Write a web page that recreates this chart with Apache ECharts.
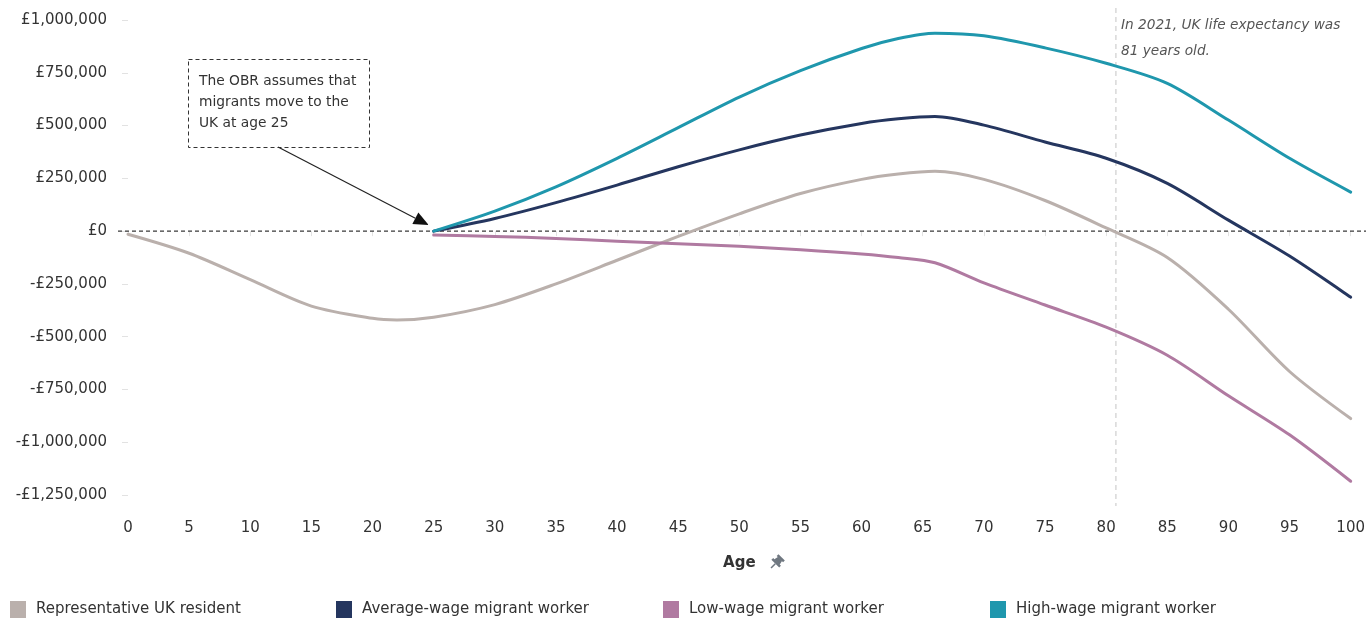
<!DOCTYPE html>
<html>
<head>
<meta charset="utf-8">
<title>Lifetime net fiscal impact by age</title>
<script src="https://cdn.jsdelivr.net/npm/echarts@6/dist/echarts.min.js"></script>
<style>
  html, body { margin: 0; padding: 0; background: #fff; }
  #chart { width: 1368px; height: 619px; }
</style>
</head>
<body>
<div id="chart"></div>
<script>
// Ages at which the cumulative net fiscal impact is sampled
const ages = [0, 5, 10, 15, 20, 22, 25, 30, 35, 40, 45, 50, 55, 60, 63, 66, 70, 75, 80, 85, 90, 95, 100];

// Cumulative net fiscal impact (£), null before arrival in the UK
const residentValues = [-15000, -105000, -230000, -355000, -413000, -421000, -408000, -348000, -250000, -138000, -25000, 82000, 178000, 245000, 270000, 283000, 245000, 145000, 15000, -125000, -370000, -665000, -888000];
const averageWageValues = [null, null, null, null, null, null, 0, 60000, 135000, 218000, 305000, 385000, 455000, 510000, 532000, 543000, 502000, 422000, 345000, 226000, 52000, -118000, -313000];
const lowWageValues = [null, null, null, null, null, null, -18000, -25000, -35000, -48000, -60000, -72000, -88000, -108000, -125000, -150000, -245000, -350000, -455000, -588000, -780000, -965000, -1185000];
const highWageValues = [null, null, null, null, null, null, 0, 95000, 210000, 345000, 490000, 635000, 760000, 865000, 912000, 937000, 925000, 868000, 795000, 700000, 526000, 345000, 185000];

const seriesNames = ['Representative UK resident', 'Average-wage migrant worker', 'Low-wage migrant worker', 'High-wage migrant worker'];
const seriesColors = ['#bab0ac', '#25365f', '#b07aa1', '#1f97ad'];

const yTicks = [-1250000, -1000000, -750000, -500000, -250000, 0, 250000, 500000, 750000, 1000000];
const xTicks = [0, 5, 10, 15, 20, 25, 30, 35, 40, 45, 50, 55, 60, 65, 70, 75, 80, 85, 90, 95, 100];

const MIGRATION_AGE = 25;
const LIFE_EXPECTANCY_LINE = 80.8;

const FONT = '"DejaVu Sans", "Noto Sans", sans-serif';

function formatPounds(v) {
  const abs = Math.abs(v).toLocaleString('en-GB');
  return (v < 0 ? '-' : '') + '£' + abs;
}

function pairs(values) {
  return ages.map((a, i) => [a, values[i]]);
}

const allValues = [residentValues, averageWageValues, lowWageValues, highWageValues];

const legendLefts = [10, 336, 663, 990];

const option = {
  animation: false,
  backgroundColor: '#ffffff',
  textStyle: { fontFamily: FONT },
  grid: { left: 128, right: 13, top: 20, bottom: 124, containLabel: false },
  legend: seriesNames.map((name, i) => ({
    data: [{ name: name, icon: 'rect' }],
    left: legendLefts[i],
    top: 601,
    padding: 0,
    itemWidth: 16,
    itemHeight: 17,
    selectedMode: false,
    textStyle: { fontFamily: FONT, fontSize: 15, color: '#333', padding: [0, 0, 0, 5] }
  })),
  xAxis: {
    type: 'value',
    min: xTicks[0],
    max: xTicks[xTicks.length - 1],
    interval: xTicks[1] - xTicks[0],
    offset: 15,
    name: 'Age',
    nameLocation: 'middle',
    nameGap: 46,
    nameTextStyle: { fontFamily: FONT, fontSize: 15, fontWeight: 600, color: '#333' },
    axisLine: { show: false },
    axisTick: { show: true, length: 5, lineStyle: { color: '#e2e2e2' } },
    splitLine: { show: false },
    axisLabel: { fontFamily: FONT, fontSize: 15, color: '#333', margin: 11 }
  },
  yAxis: {
    type: 'value',
    min: yTicks[0],
    max: yTicks[yTicks.length - 1],
    interval: yTicks[1] - yTicks[0],
    offset: 10,
    axisLine: { show: false },
    axisTick: { show: true, length: 6, lineStyle: { color: '#e2e2e2' } },
    splitLine: { show: false },
    axisLabel: { fontFamily: FONT, fontSize: 15, color: '#333', margin: 11, formatter: formatPounds }
  },
  series: seriesNames.map((name, i) => ({
    name: name,
    type: 'line',
    data: pairs(allValues[i]),
    smooth: 0.3,
    showSymbol: false,
    connectNulls: false,
    color: seriesColors[i],
    lineStyle: { width: 3, color: seriesColors[i], cap: 'round', join: 'round' },
    z: 3 + i
  }))
};

const chart = echarts.init(document.getElementById('chart'), null, { renderer: 'canvas' });
chart.setOption(option);

// Reference lines and annotations placed through the axis scales
const zeroY = chart.convertToPixel({ yAxisIndex: 0 }, 0);
const lifeX = chart.convertToPixel({ xAxisIndex: 0 }, LIFE_EXPECTANCY_LINE);
const arrival = chart.convertToPixel({ gridIndex: 0 }, [MIGRATION_AGE, 0]);

// Arrow from the note box to the arrival point
const arrowStart = [278, 147];
const arrowEnd = [arrival[0] - 5, arrival[1] - 6];
const ang = Math.atan2(arrowEnd[1] - arrowStart[1], arrowEnd[0] - arrowStart[0]);
const headLen = 15, headHalf = 6.5;
const bx = arrowEnd[0] - headLen * Math.cos(ang);
const by = arrowEnd[1] - headLen * Math.sin(ang);
const head = [
  arrowEnd,
  [bx + headHalf * Math.sin(ang), by - headHalf * Math.cos(ang)],
  [bx - headHalf * Math.sin(ang), by + headHalf * Math.cos(ang)]
];

chart.setOption({
  graphic: [
    {
      type: 'line', z: 1,
      shape: { x1: 118, y1: zeroY, x2: 1366, y2: zeroY },
      style: { stroke: '#3a3a3a', lineWidth: 1.2, lineDash: [4, 3] }
    },
    {
      type: 'line', z: 1,
      shape: { x1: lifeX, y1: 8, x2: lifeX, y2: 506 },
      style: { stroke: '#c4c4c4', lineWidth: 1, lineDash: [5, 4] }
    },
    {
      type: 'text', z: 10, left: lifeX + 5, top: 12,
      style: {
        text: 'In 2021, UK life expectancy was\n81 years old.',
        font: 'italic 13.7px ' + FONT, fill: '#555', lineHeight: 26
      }
    },
    {
      type: 'rect', z: 10,
      shape: { x: 188.5, y: 59.5, width: 181, height: 88 },
      style: { fill: '#fff', stroke: '#333', lineWidth: 1, lineDash: [4, 3] }
    },
    {
      type: 'text', z: 11, left: 199, top: 71,
      style: {
        text: 'The OBR assumes that\nmigrants move to the\nUK at age 25',
        font: '13.8px ' + FONT, fill: '#333', lineHeight: 21
      }
    },
    {
      type: 'line', z: 10,
      shape: { x1: arrowStart[0], y1: arrowStart[1], x2: bx, y2: by },
      style: { stroke: '#222', lineWidth: 1.2 }
    },
    {
      type: 'polygon', z: 10,
      shape: { points: head },
      style: { fill: '#111' }
    },
    {
      // small pin glyph beside the axis title
      type: 'group', x: 776, y: 563, rotation: -Math.PI / 4, z: 10,
      children: [
        { type: 'rect', shape: { x: -4.5, y: -8, width: 9, height: 2.5 }, style: { fill: '#6f7780' } },
        { type: 'polygon', shape: { points: [[-2.8, -6], [2.8, -6], [3.8, -1], [-3.8, -1]] }, style: { fill: '#6f7780' } },
        { type: 'rect', shape: { x: -5.5, y: -1.5, width: 11, height: 2.5 }, style: { fill: '#6f7780' } },
        { type: 'line', shape: { x1: 0, y1: 1, x2: 0, y2: 7 }, style: { stroke: '#6f7780', lineWidth: 1.5 } }
      ]
    }
  ]
});
</script>
</body>
</html>
